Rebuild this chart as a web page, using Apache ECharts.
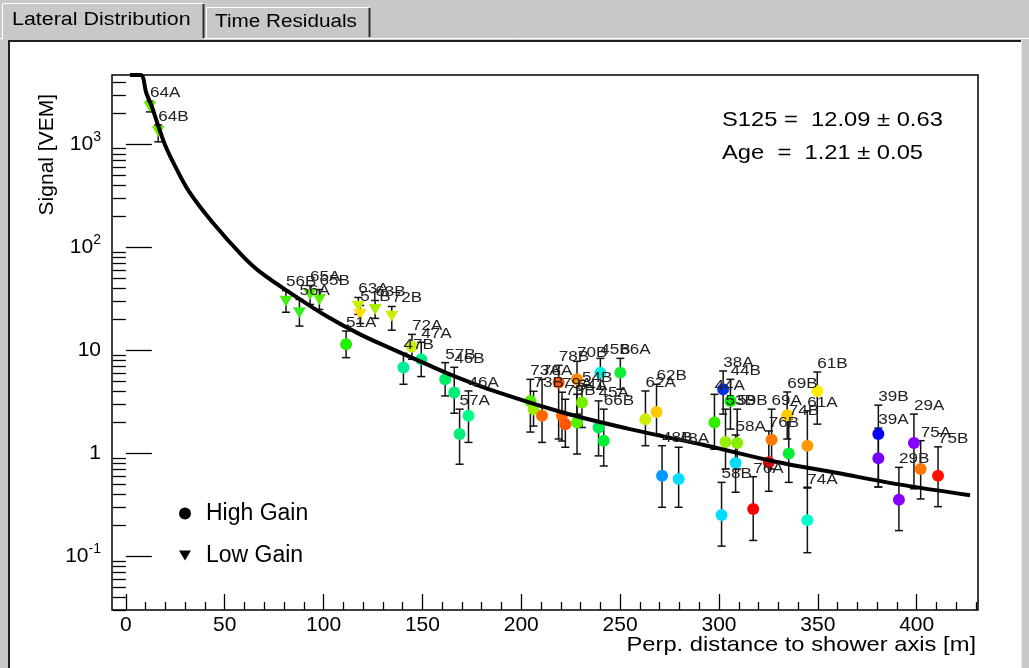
<!DOCTYPE html>
<html>
<head>
<meta charset="utf-8">
<script src="https://cdn.jsdelivr.net/npm/echarts@6/dist/echarts.min.js"></script>
<style>
html, body { margin: 0; padding: 0; background: #c8c8c8; }
#chart { width: 1029px; height: 668px; }
</style>
</head>
<body>
<div id="chart"></div>
<script>
// ---- station signals: id, gain channel, perpendicular distance [m], signal [VEM], error-bar ends ----
const stationIds = ['64A','64B','56B','56A','65A','65B','63A','51B','63B','72B',
  '51A','72A','47A','47B','57B','46B','46A','57A','73A','73B',
  '78A','78B','70B','79A','79B','54A','54B','45B','66A','45A',
  '66B','62A','62B','48B','48A','44A','38A','44B','53B','59B',
  '58A','58B','76A','76B','69A','74B','69B','61A','61B','74A',
  '39B','39A','29B','29A','75A','75B'];
const gainChannel = ['L','L','L','L','L','L','L','L','L','L',
  'H','H','H','H','H','H','H','H','H','H',
  'H','H','H','H','H','H','H','H','H','H',
  'H','H','H','H','H','H','H','H','H','H',
  'H','H','H','H','H','H','H','H','H','H',
  'H','H','H','H','H','H'];
const distance = [12.2,16.4,81.0,87.8,93.2,97.9,117.6,118.5,126.1,134.5,
  111.4,144.7,149.4,140.4,161.5,166.1,173.3,168.8,204.6,206.2,
  210.5,218.9,228.2,220.6,222.3,228.2,230.7,240.0,250.1,239.1,
  241.7,262.8,268.4,271.2,279.6,297.7,302.1,305.8,303.3,309.2,
  308.4,301.3,317.3,325.2,326.6,335.3,334.5,344.7,349.7,344.7,
  380.6,380.6,391.0,398.6,402.0,410.8];
const signal = [2300,1320,29.8,23.0,34.6,31.0,26.7,22.2,24.8,21.3,
  11.4,10.8,8.13,6.76,5.20,3.87,2.30,1.53,3.21,2.67,
  2.30,4.84,5.20,2.30,1.91,1.98,3.10,6.04,6.04,1.77,
  1.32,2.13,2.51,0.603,0.560,1.98,4.17,3.21,1.28,1.25,
  0.80,0.251,0.287,0.813,1.35,0.99,2.33,1.18,4.01,0.223,
  1.53,0.889,0.353,1.25,0.70,0.603];
const signalLow = [2050,1050,23.3,17.1,27.7,24.8,22.2,18.1,20.3,15.6,
  8.44,8.13,5.53,4.66,3.59,2.44,1.27,0.78,1.60,1.83,
  1.27,1.37,2.39,1.31,1.14,0.98,1.77,4.17,4.17,0.94,
  0.75,1.18,1.53,0.298,0.298,1.09,2.39,1.71,0.70,0.70,
  0.417,0.125,0.142,0.426,0.70,0.52,1.37,0.466,1.91,0.108,
  0.469,0.469,0.177,0.45,0.359,0.302];
const signalHigh = [2600,1530,37.8,31.0,42.3,38.7,32.4,27.1,30.3,26.5,
  15.3,14.2,11.9,9.29,7.55,6.80,4.01,2.67,5.20,3.98,
  5.20,7.11,7.78,3.90,3.33,3.72,4.49,8.31,8.31,3.21,
  2.67,4.01,4.66,1.18,1.14,3.72,6.27,5.20,2.67,2.67,
  1.50,0.52,0.59,1.64,2.67,2.13,3.92,2.57,6.12,0.458,
  2.92,1.75,0.727,2.39,1.32,1.15];
// marker colour of each station (time-ordered palette)
const stationColor = ['#66ee00','#66ee00','#44ee11','#33ee22','#55ee00','#55ee00','#ccee00','#ffdd00','#aaee00','#ccee00',
  '#22ee00','#ccee11','#00ee88','#00ee99','#00ee66','#00ee77','#00ff88','#00ee77','#55ee00','#99ee00',
  '#ff6600','#ff5500','#ff8800','#ff6600','#ff5500','#55ee00','#77ee00','#00eedd','#11ee33','#00ee55',
  '#00ee33','#ccee00','#ffcc00','#0099ff','#00ddff','#33ee00','#0033dd','#00ee00','#99ee00','#88ee00',
  '#00ddff','#00ddff','#ff0000','#ff0000','#ff7700','#00ee33','#ffcc00','#ff9900','#ffee00','#00ffcc',
  '#0000ff','#7700ff','#8800ff','#8800ff','#ff7700','#ff1100'];

// ---- lateral distribution fit ----
const fitDistance = [2.1,7.5,10.4,13,16,20,24,32,44,59,68,85,101.6,118.5,135.4,152,167,188,221,255,294,328,360,390,427];
const fitSignal = [4676,4676,3100,2350,1580,960,660,345,172,82,57,34,21.3,14.2,10.1,7.3,5.5,3.9,2.48,1.71,1.18,0.83,0.64,0.50,0.39];

// ---- axes ----
const X_MIN = -7, X_MAX = 431, Y_MIN = 0.03, Y_MAX = 4676;
const xMajorTicks = [0, 50, 100, 150, 200, 250, 300, 350, 400];
const yMajorTicks = [0.1, 1, 10, 100, 1000];
const xMinorTicks = [];
for (let v = 10; v < X_MAX; v += 10) if (v % 50 !== 0) xMinorTicks.push(v);
const yMinorTicks = [];
for (let e = -2; e <= 3; e++) for (let m = 2; m <= 9; m++) {
  const v = m * Math.pow(10, e);
  if (v > Y_MIN * 0.999 && v < Y_MAX) yMinorTicks.push(+v.toPrecision(3));
}
const fitText = ['S125 =  12.09 \u00b1 0.63', 'Age  =  1.21 \u00b1 0.05'];

const SANS = '"Liberation Sans", Arial, Helvetica, sans-serif';
const WIDE = 1.13;   // horizontal stretch of the canvas text

const stations = stationIds.map((id, i) => i);
const highGain = stations.filter(i => gainChannel[i] === 'H').map(i => ({
  value: [distance[i], signal[i]], itemStyle: { color: stationColor[i] }
}));
const lowGain = stations.filter(i => gainChannel[i] === 'L').map(i => ({
  value: [distance[i], signal[i]], itemStyle: { color: stationColor[i] }
}));
const errData = stations.map(i => [distance[i], signalLow[i], signalHigh[i], i]);
const fitData = fitDistance.map((d, i) => [d, fitSignal[i]]);

const TRI_DOWN = 'path://M0,0L12,0L6,10Z';

function renderErrorBar(params, api) {
  const x = api.value(0);
  const lowClamped = Math.max(api.value(1), Y_MIN);
  const top = api.coord([x, api.value(2)]);
  const bot = api.coord([x, lowClamped]);
  const cap = 4;
  const st = { stroke: '#111', lineWidth: 1.5 };
  const children = [
    { type: 'line', shape: { x1: top[0], y1: top[1], x2: bot[0], y2: bot[1] }, style: st },
    { type: 'line', shape: { x1: top[0] - cap, y1: top[1], x2: top[0] + cap, y2: top[1] }, style: st }
  ];
  if (api.value(1) > Y_MIN) {
    children.push({ type: 'line', shape: { x1: bot[0] - cap, y1: bot[1], x2: bot[0] + cap, y2: bot[1] }, style: st });
  }
  return { type: 'group', children };
}

function renderStationLabel(params, api) {
  const i = api.value(3);
  const p = api.coord([api.value(0), api.value(2)]);
  return {
    type: 'text', x: p[0], y: p[1] - 1, scaleX: 1.22,
    style: { text: stationIds[i], fill: '#222', font: '14px ' + SANS, align: 'left', verticalAlign: 'bottom' }
  };
}

function wideText(x, y, text, size, align, extra, stretch) {
  return Object.assign({ type: 'text', z: 10, x: x, y: y, scaleX: stretch || WIDE,
    style: { text: text, font: size + 'px ' + SANS, fill: '#000', align: align || 'left', verticalAlign: 'middle' } }, extra || {});
}

const chart = echarts.init(document.getElementById('chart'), null, { renderer: 'canvas' });

const option = {
  backgroundColor: '#c8c8c8',
  animation: false,
  grid: { left: 112, right: 51, top: 75, bottom: 58, show: true, backgroundColor: '#ffffff', borderColor: '#000', borderWidth: 1.5 },
  xAxis: [
    { type: 'value', min: X_MIN, max: X_MAX, position: 'bottom',
      axisLine: { show: false }, splitLine: { show: false },
      axisTick: { show: true, inside: true, length: 16, customValues: xMajorTicks, lineStyle: { color: '#000', width: 1.3 } },
      axisLabel: { show: true, customValues: xMajorTicks, margin: 5, fontSize: 21, color: '#000', fontFamily: SANS } },
    { type: 'value', min: X_MIN, max: X_MAX, position: 'bottom',
      axisLine: { show: false }, splitLine: { show: false },
      axisTick: { show: true, inside: true, length: 8, customValues: xMinorTicks, lineStyle: { color: '#000', width: 1.3 } },
      axisLabel: { show: false } }
  ],
  yAxis: [
    { type: 'log', logBase: 10, min: Y_MIN, max: Y_MAX,
      axisLine: { show: false }, splitLine: { show: false },
      axisTick: { show: true, inside: true, length: 26, customValues: yMajorTicks, lineStyle: { color: '#000', width: 1.3 } },
      axisLabel: { show: true, customValues: yMajorTicks, margin: 11, fontSize: 21, color: '#000', fontFamily: SANS,
        formatter: v => {
          const e = Math.round(Math.log10(v));
          if (e === 0) return '1';
          if (e === 1) return '10';
          return '10{s|' + e + '}';
        },
        rich: { s: { fontSize: 14, fontFamily: SANS, color: '#000', verticalAlign: 'top', padding: [0, 0, 14, 0] } } } },
    { type: 'log', logBase: 10, min: Y_MIN, max: Y_MAX,
      axisLine: { show: false }, splitLine: { show: false },
      axisTick: { show: true, inside: true, length: 13, customValues: yMinorTicks, lineStyle: { color: '#000', width: 1.3 } },
      axisLabel: { show: false } }
  ],
  legend: {
    data: [{ name: 'High Gain', icon: 'circle' }, { name: 'Low Gain', icon: TRI_DOWN }],
    orient: 'vertical', left: 179, top: 502, padding: 0, itemGap: 19, itemWidth: 12, itemHeight: 12,
    selectedMode: false,
    textStyle: { fontSize: 23, color: '#000', fontFamily: SANS, padding: [0, 0, 0, 10], lineHeight: 22 }
  },
  graphic: [
    // tab strip and canvas frame
    { type: 'rect', z: -10, shape: { x: 0, y: 0, width: 1029, height: 668 }, style: { fill: '#c8c8c8' } },
    { type: 'rect', z: -9, shape: { x: 8, y: 40, width: 1013, height: 628 }, style: { fill: '#ffffff' } },
    { type: 'line', z: -8, shape: { x1: 8, y1: 41, x2: 1021, y2: 41 }, style: { stroke: '#202020', lineWidth: 2 } },
    { type: 'line', z: -8, shape: { x1: 9, y1: 40, x2: 9, y2: 668 }, style: { stroke: '#202020', lineWidth: 2 } },
    { type: 'line', z: -8, shape: { x1: 1021.5, y1: 40, x2: 1021.5, y2: 668 }, style: { stroke: '#e8e8e8', lineWidth: 1 } },
    { type: 'line', z: -8, shape: { x1: 0, y1: 38.5, x2: 1029, y2: 38.5 }, style: { stroke: '#ffffff', lineWidth: 1 } },
    { type: 'rect', z: -7, shape: { x: 2, y: 2, width: 202, height: 38 }, style: { fill: '#c8c8c8' } },
    { type: 'polyline', z: -6, shape: { points: [[2.5, 40], [2.5, 3.5], [203.5, 3.5]] }, style: { stroke: '#ffffff', lineWidth: 1, fill: null } },
    { type: 'line', z: -6, shape: { x1: 203.5, y1: 4, x2: 203.5, y2: 38 }, style: { stroke: '#303030', lineWidth: 2 } },
    wideText(12, 20, 'Lateral Distribution', 18, 'left', { z: -5 }, 1.19),
    { type: 'polyline', z: -6, shape: { points: [[206.5, 38], [206.5, 7.5], [369, 7.5]] }, style: { stroke: '#ffffff', lineWidth: 1, fill: null } },
    { type: 'line', z: -6, shape: { x1: 369.5, y1: 8, x2: 369.5, y2: 37 }, style: { stroke: '#303030', lineWidth: 2 } },
    wideText(215, 22, 'Time Residuals', 18, 'left', { z: -5 }, 1.15),
    // axis titles
    { type: 'text', z: 10, x: 47, y: 94, rotation: Math.PI / 2,
      style: { text: 'Signal [VEM]', font: '21px ' + SANS, fill: '#000', align: 'right', verticalAlign: 'middle' } },
    wideText(976, 645, 'Perp. distance to shower axis [m]', 21, 'right'),
    // fit results
    wideText(722, 120, fitText[0], 21, 'left'),
    wideText(722, 153, fitText[1], 21, 'left')
  ],
  series: [
    { name: 'errors', type: 'custom', renderItem: renderErrorBar, data: errData, z: 2,
      encode: { x: 0, y: [1, 2] }, silent: true },
    { name: 'High Gain', type: 'scatter', symbol: 'circle', symbolSize: 12, data: highGain, z: 3,
      itemStyle: { color: '#000', opacity: 1 } },
    { name: 'Low Gain', type: 'scatter', symbol: TRI_DOWN, symbolSize: [13, 11], data: lowGain, z: 3,
      itemStyle: { color: '#000', opacity: 1 } },
    { name: 'LDF fit', type: 'line', data: fitData, showSymbol: false, symbol: 'none', smooth: 0.35, z: 4,
      lineStyle: { color: '#000', width: 4 }, clip: true },
    { name: 'labels', type: 'custom', renderItem: renderStationLabel, data: errData, z: 6,
      encode: { x: 0, y: [1, 2] }, silent: true }
  ]
};
chart.setOption(option);
</script>
</body>
</html>
